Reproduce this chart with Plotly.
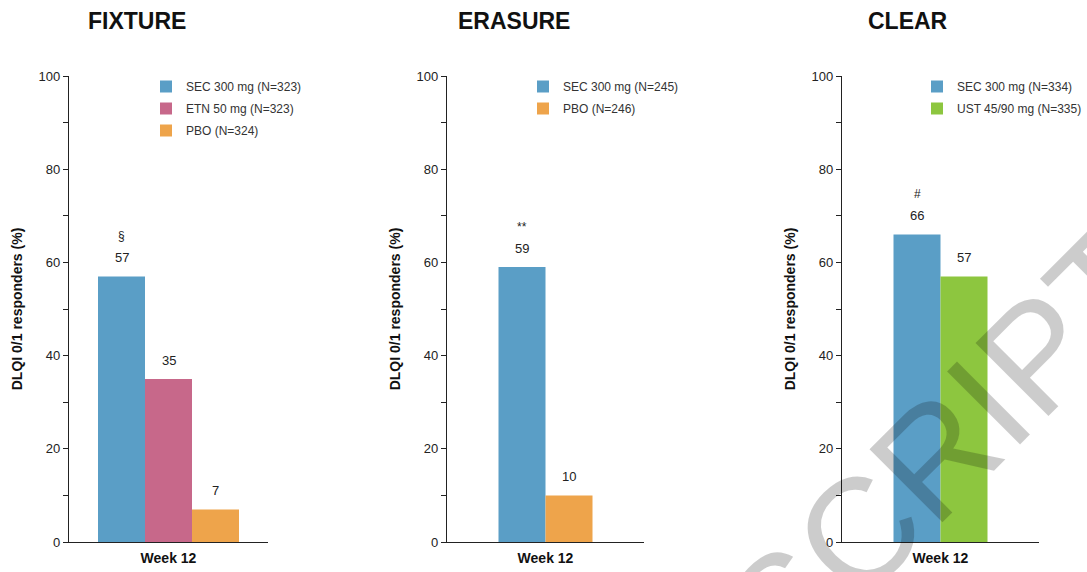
import plotly.graph_objects as go

# ---- data -------------------------------------------------------------
timepoint = ["Week 12"]
studies = ["FIXTURE", "ERASURE", "CLEAR"]

fixture_arms = ["SEC 300 mg (N=323)", "ETN 50 mg (N=323)", "PBO (N=324)"]
fixture_values = [57, 35, 7]
fixture_marks = ["§", "", ""]

erasure_arms = ["SEC 300 mg (N=245)", "PBO (N=246)"]
erasure_values = [59, 10]
erasure_marks = ["**", ""]

clear_arms = ["SEC 300 mg (N=334)", "UST 45/90 mg (N=335)"]
clear_values = [66, 57]
clear_marks = ["#", ""]

y_tick_values = [0, 10, 20, 30, 40, 50, 60, 70, 80, 90, 100]
y_tick_labels = ["0", "", "20", "", "40", "", "60", "", "80", "", "100"]

# ---- style ------------------------------------------------------------
FONT = "Arial, 'Liberation Sans', sans-serif"
ARM_COLORS = {"SEC": "#5A9EC6", "ETN": "#C7688A", "PBO": "#EEA44B", "UST": "#8DC63F"}
W, H = 1087, 572
PX_X = [(69, 268), (447, 644), (842, 1039)]     # plot area left/right in pixels
PX_Y = (76, 542)                                 # plot area top/bottom in pixels
TITLE_CX = [137, 514, 908]
LEGEND_X = [146, 523, 917]
BAR_PX = 47

panels = [
    (fixture_arms, fixture_values, fixture_marks),
    (erasure_arms, erasure_values, erasure_marks),
    (clear_arms, clear_values, clear_marks),
]

fig = go.Figure()
annotations = []
layout = {}

for p, (arms, values, marks) in enumerate(panels):
    suffix = "" if p == 0 else str(p + 1)
    xa, ya = "x" + suffix, "y" + suffix
    left, right = PX_X[p]
    width = BAR_PX / (right - left)          # bar width in category units
    n = len(arms)
    legend_name = "legend" + suffix

    for i, (arm, val, mark) in enumerate(zip(arms, values, marks)):
        offset = (i - n / 2) * width
        fig.add_trace(go.Bar(
            x=timepoint, y=[val], name=arm,
            width=width, offset=offset,
            marker=dict(color=ARM_COLORS[arm.split()[0]], line=dict(width=0)),
            xaxis=xa, yaxis=ya, legend=legend_name,
            legendgroup=f"{studies[p]}-{i}",
        ))
        cx = offset + width / 2
        annotations.append(dict(
            x=cx, y=val, xref=xa, yref=ya, text=str(val), showarrow=False,
            yanchor="bottom", yshift=9, font=dict(family=FONT, size=13, color="#222"),
        ))
        if mark:
            annotations.append(dict(
                x=cx, y=val, xref=xa, yref=ya, text=mark, showarrow=False,
                yanchor="bottom", yshift=31, font=dict(family=FONT, size=12, color="#222"),
            ))

    layout["xaxis" + suffix] = dict(
        domain=[left / W, right / W], anchor=ya, type="category", automargin=False,
        range=[-0.5, 0.5], showline=True, linecolor="#222", linewidth=1.4,
        ticks="", showgrid=False, zeroline=False, fixedrange=True, ticklabelstandoff=3,
        tickfont=dict(family=FONT, size=14, color="#111", weight="bold"),
    )
    layout["yaxis" + suffix] = dict(
        domain=[1 - PX_Y[1] / H, 1 - PX_Y[0] / H], anchor=xa, automargin=False,
        range=[0, 100], tickmode="array", tickvals=y_tick_values, ticktext=y_tick_labels,
        ticks="outside", ticklen=5, tickcolor="#222", tickwidth=1.2,
        showline=True, linecolor="#222", linewidth=1.4,
        showgrid=False, zeroline=False, fixedrange=True,
        tickfont=dict(family=FONT, size=13, color="#222"),
        title=dict(text="DLQI 0/1 responders (%)", standoff=12,
                   font=dict(family=FONT, size=14, color="#111", weight="bold")),
    )
    layout[legend_name] = dict(
        x=LEGEND_X[p] / W, y=1 - 72 / H, xanchor="left", yanchor="top",
        bgcolor="rgba(0,0,0,0)", itemwidth=30, tracegroupgap=3,
        font=dict(family=FONT, size=12, color="#333"),
    )
    annotations.append(dict(
        x=TITLE_CX[p] / W, y=1 - 21 / H, xref="paper", yref="paper",
        text=studies[p], showarrow=False, xanchor="center", yanchor="middle",
        font=dict(family=FONT, size=23, color="#111", weight="bold"),
    ))

# diagonal watermark
annotations.append(dict(
    x=944 / W, y=1 - 447 / H, xref="paper", yref="paper", text="SCRIPT",
    showarrow=False, textangle=-45, xanchor="center", yanchor="middle",
    font=dict(family=FONT, size=150, color="rgba(0,0,0,0.2)"),
))

fig.update_layout(
    width=W, height=H, margin=dict(l=0, r=0, t=0, b=0, autoexpand=False),
    paper_bgcolor="white", plot_bgcolor="white",
    barmode="overlay", showlegend=True,
    annotations=annotations, **layout,
)

fig.write_html("out.html")
